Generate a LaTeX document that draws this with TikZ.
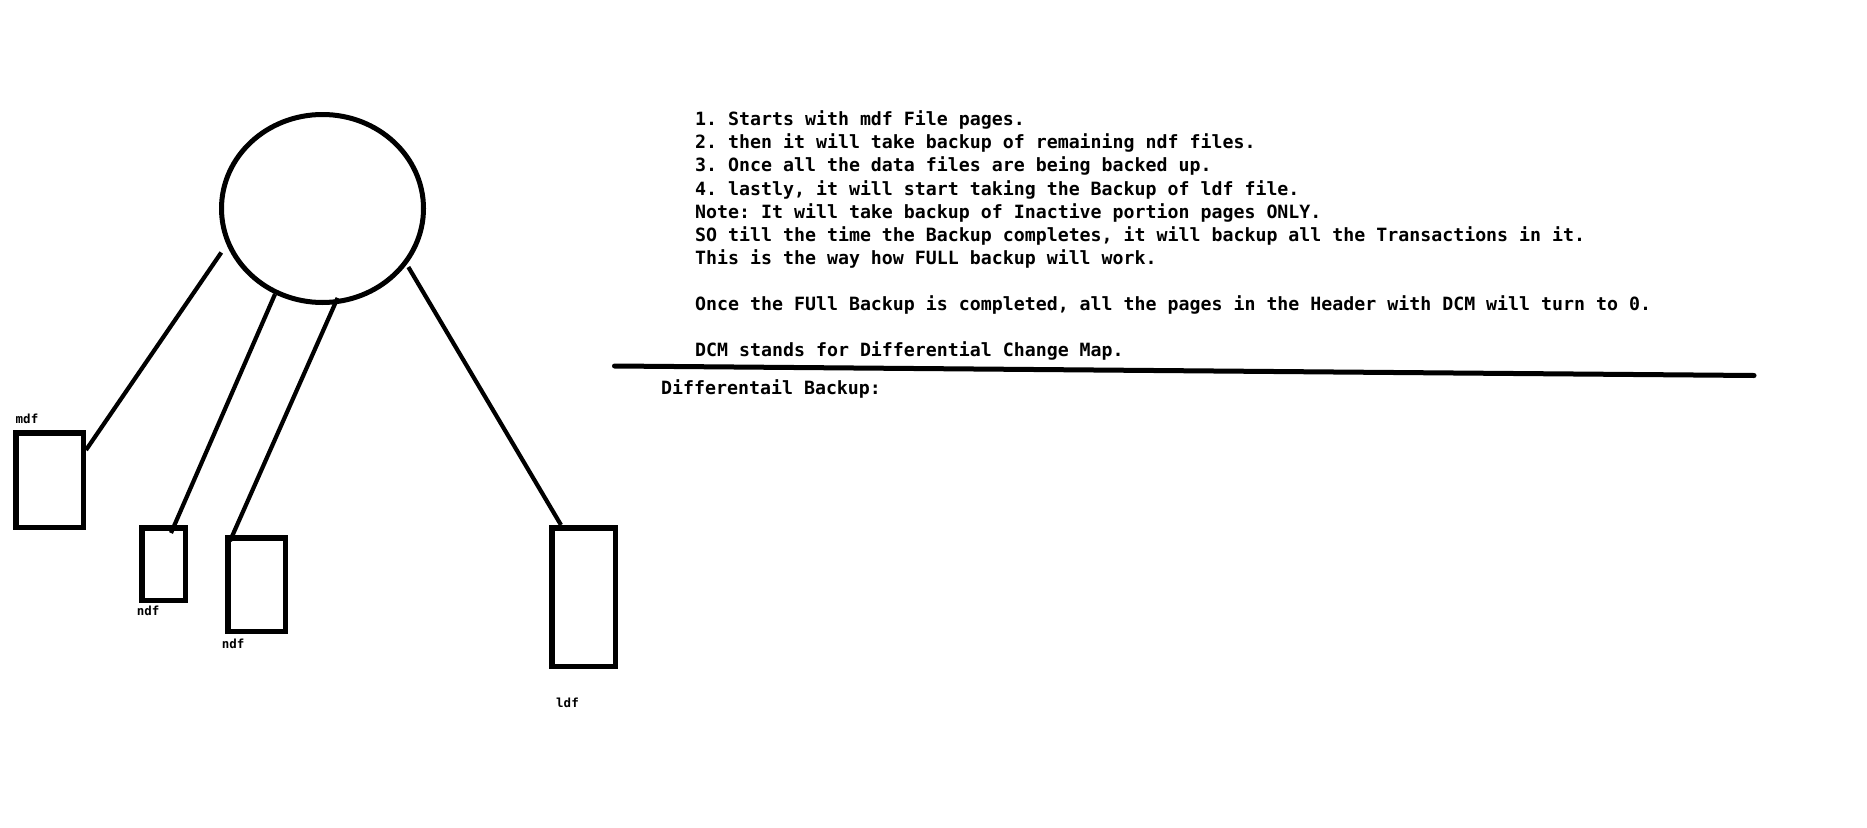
\documentclass[tikz,border=0pt]{standalone}
\usepackage{fontspec}
\newfontfamily\notefont{DejaVu Sans Mono}
\usetikzlibrary{shapes.geometric}
\frenchspacing
\tikzset{
  filebox/.style={draw=black, line width=5.5pt, inner sep=0pt, fill=none},
  link/.style={draw=black, line width=4.2pt},
  noteline/.style={anchor=base west, inner sep=0pt, font=\notefont\bfseries\fontsize{18.25}{23}\selectfont},
  filelabel/.style={anchor=base west, inner sep=0pt, font=\notefont\bfseries\fontsize{12.5}{14}\selectfont},
}
\begin{document}
\begin{tikzpicture}[x=1pt, y=-1pt]
\fill[white] (0,0) rectangle (1867,827);
\useasboundingbox (0,0) rectangle (1867,827);

% database circle
\node[ellipse, draw=black, line width=5pt, inner sep=0pt, minimum width=202pt, minimum height=188pt] (db) at (322.5,208.5) {};

% file boxes
\node[filebox, minimum width=67.5pt, minimum height=94.5pt] (mdf) at (49.5,480) {};
\node[filebox, minimum width=43.5pt, minimum height=72.5pt] (ndfa) at (163.5,564) {};
\node[filebox, minimum width=57.5pt, minimum height=93.5pt] (ndfb) at (256.5,584.5) {};
\node[filebox, minimum width=63.5pt, minimum height=138.5pt] (ldf) at (583.5,597) {};

% labels
\node[filelabel] (lmdf) at (15.5,423) {mdf};
\node[filelabel] (lndfa) at (136.7,615) {ndf};
\node[filelabel] (lndfb) at (221.6,648) {ndf};
\node[filelabel] (lldf) at (556,707) {ldf};

% connectors
\draw[link] ([xshift=-7pt,yshift=-4pt]db.203) -- ([yshift=30pt]mdf.east);
\draw[link] (db.241) -- ([xshift=7.5pt,yshift=31pt]ndfa.center);
\draw[link] ([yshift=6pt]db.279) -- ([xshift=-26.5pt,yshift=43.5pt]ndfb.center);
\draw[link] ([xshift=2pt,yshift=-2pt]db.326) -- ([xshift=12pt]ldf.north west);

% notes
\node[noteline] (t1) at (695,125.7) {1. Starts with mdf File pages.};
\node[noteline] (t2) at (695,148.8) {2. then it will take backup of remaining ndf files.};
\node[noteline] (t3) at (695,171.9) {3. Once all the data files are being backed up.};
\node[noteline] (t4) at (695,195.0) {4. lastly, it will start taking the Backup of ldf file.};
\node[noteline] (t5) at (695,218.1) {Note: It will take backup of Inactive portion pages ONLY.};
\node[noteline] (t6) at (695,241.2) {SO till the time the Backup completes, it will backup all the Transactions in it.};
\node[noteline] (t7) at (695,264.3) {This is the way how FULL backup will work.};
\node[noteline] (t8) at (695,310.5) {Once the FUll Backup is completed, all the pages in the Header with DCM will turn to 0.};
\node[noteline] (t9) at (695,356.7) {DCM stands for Differential Change Map.};

% separator
\coordinate (hla) at (614.5,366);
\coordinate (hlb) at (1754,375.5);
\draw[black, line width=5pt, line cap=round] (hla) -- (hlb);

\node[noteline] (diff) at (661,394) {Differentail Backup:};
\end{tikzpicture}
\end{document}
